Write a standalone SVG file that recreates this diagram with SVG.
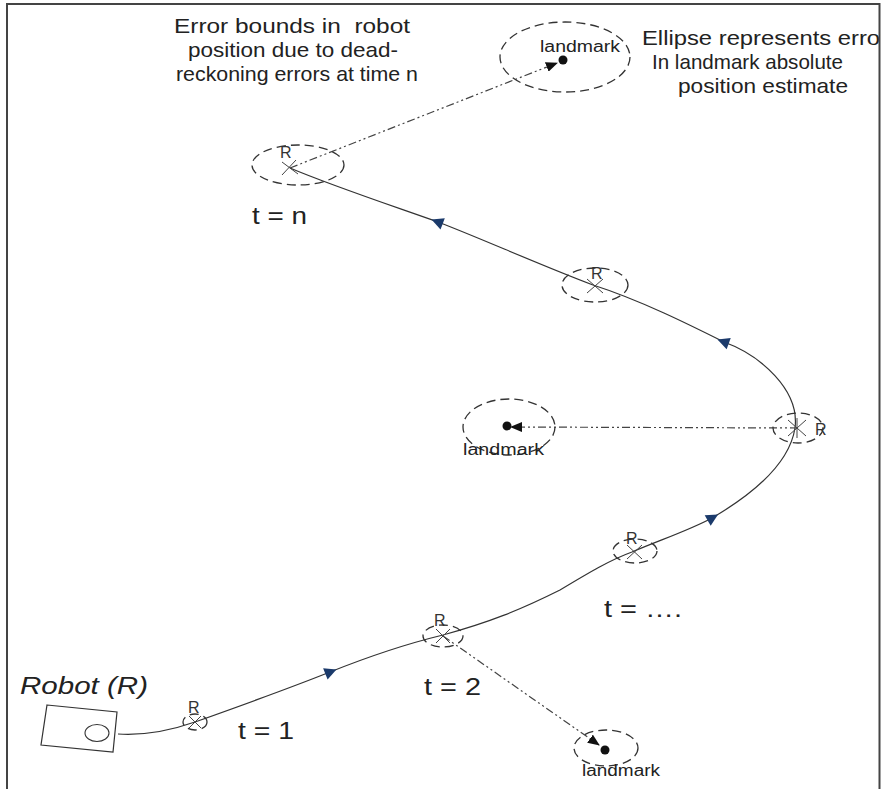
<svg xmlns="http://www.w3.org/2000/svg" width="881" height="789" viewBox="0 0 881 789">
<style>
text{font-family:"Liberation Sans",Arial,sans-serif;fill:#222}
.lbl{font-size:21px}
.t{font-size:23px}
.lm{font-size:16px}
.r{font-size:16px;fill:#333}
.ell{fill:none;stroke:#333;stroke-width:1.3;stroke-dasharray:9 5}
.x{stroke:#444;stroke-width:1}
.conn{fill:none;stroke:#444;stroke-width:1.2;stroke-dasharray:8 3 2 3 2 3}
.dir{fill:#1b3a6b}
</style>
<defs>
<marker id="ah" viewBox="0 0 12 10" refX="11" refY="5" markerWidth="12" markerHeight="10" markerUnits="userSpaceOnUse" orient="auto">
<path d="M0,0 L12,5 L0,10 Z" fill="#111"/>
</marker>
</defs>
<rect x="0" y="0" width="881" height="789" fill="#fff"/>
<g id="labels">
<text class="lbl" x="174" y="33" textLength="236" lengthAdjust="spacingAndGlyphs" xml:space="preserve">Error bounds in  robot</text>
<text class="lbl" x="188" y="57" textLength="210" lengthAdjust="spacingAndGlyphs">position due to dead-</text>
<text class="lbl" x="176" y="81" textLength="242" lengthAdjust="spacingAndGlyphs">reckoning errors at time n</text>
<text class="lbl" x="642" y="45" textLength="246" lengthAdjust="spacingAndGlyphs">Ellipse represents error</text>
<text class="lbl" x="652" y="69" textLength="191" lengthAdjust="spacingAndGlyphs">In landmark absolute</text>
<text class="lbl" x="678" y="93" textLength="170" lengthAdjust="spacingAndGlyphs">position estimate</text>
<text class="t" x="252" y="224" textLength="55" lengthAdjust="spacingAndGlyphs">t = n</text>
<text class="t" x="604" y="617" textLength="78" lengthAdjust="spacingAndGlyphs">t = ….</text>
<text class="t" x="424" y="695" textLength="57" lengthAdjust="spacingAndGlyphs">t = 2</text>
<text class="t" x="238" y="739" textLength="56" lengthAdjust="spacingAndGlyphs">t = 1</text>
</g>
<g id="frame" stroke="#444" stroke-width="2" fill="none">
<path d="M7,789 V4 H879.5 V789"/>
</g>
<g id="connectors">
<path id="trajectory" d="M118,734 C150,736 175,729 195,722 C240,706 290,688 330,672 C370,656 410,643 443,635 C490,622 520,610 560,590 C590,572 610,560 632,552 C660,540 690,530 712,518 C760,490 790,460 795,428 C800,390 760,355 724,342 C690,325 640,300 593,285 C540,265 480,238 438,222 C390,205 330,185 290,168" fill="none" stroke="#333" stroke-width="1.2"/>
<polygon class="dir" points="7,0 -5,-6 -5,6" transform="translate(330,672) rotate(-22)"/>
<polygon class="dir" points="7,0 -5,-6 -5,6" transform="translate(712,518) rotate(-30)"/>
<polygon class="dir" points="7,0 -5,-6 -5,6" transform="translate(724,342) rotate(-160)"/>
<polygon class="dir" points="7,0 -5,-6 -5,6" transform="translate(438,222) rotate(-159)"/>
<path class="conn" d="M290,168 L557,63" marker-end="url(#ah)"/>
<path class="conn" d="M798,428 L511,427" marker-end="url(#ah)"/>
<path class="conn" d="M443,636 L599,745" marker-end="url(#ah)"/>
</g>
<g id="robot">
<polygon points="47,705 117,712 113,752 41,745" fill="#fff" stroke="#333" stroke-width="1.2"/>
<ellipse cx="97" cy="733" rx="12" ry="8.5" fill="none" stroke="#333" stroke-width="1.1"/>
<text x="20" y="694" font-size="24" font-style="italic" textLength="128" lengthAdjust="spacingAndGlyphs">Robot (R)</text>
</g>
<g id="r1">
<ellipse class="ell" cx="195" cy="722" rx="12" ry="8"/>
<path class="x" d="M189,716 L201,728 M201,716 L189,728"/>
<text class="r" x="188" y="713">R</text>
</g>
<g id="r2">
<ellipse class="ell" cx="443" cy="636" rx="20" ry="11"/>
<path class="x" d="M436,629 L450,643 M450,629 L436,643"/>
<text class="r" x="434" y="626">R</text>
</g>
<g id="r3">
<ellipse class="ell" cx="635" cy="551" rx="22" ry="12"/>
<path class="x" d="M627,545 L642,559 M642,545 L627,559"/>
<text class="r" x="626" y="544">R</text>
</g>
<g id="r4">
<ellipse class="ell" cx="798" cy="428" rx="25" ry="15"/>
<path class="x" d="M788,420 L806,436 M806,420 L788,436 M797,418 L797,438"/>
<text class="r" x="815" y="435">R</text>
</g>
<g id="r5">
<ellipse class="ell" cx="595" cy="285" rx="33" ry="17"/>
<path class="x" d="M587,279 L603,293 M603,279 L587,293"/>
<text class="r" x="591" y="279">R</text>
</g>
<g id="r6">
<ellipse class="ell" cx="298" cy="165" rx="46" ry="20"/>
<path class="x" d="M282,162 L298,174 M296,160 L282,175"/>
<text class="r" x="280" y="158">R</text>
</g>
<g id="landmark-top">
<ellipse class="ell" cx="565" cy="57" rx="65" ry="35"/>
<circle cx="563" cy="60" r="4.5" fill="#111"/>
<text class="lm" x="540" y="52" textLength="80" lengthAdjust="spacingAndGlyphs">landmark</text>
</g>
<g id="landmark-mid">
<ellipse class="ell" cx="509" cy="427" rx="46" ry="28"/>
<circle cx="507" cy="426" r="4.5" fill="#111"/>
<text class="lm" x="463" y="455" textLength="81" lengthAdjust="spacingAndGlyphs">landmark</text>
</g>
<g id="landmark-bot">
<ellipse class="ell" cx="606" cy="748" rx="32" ry="18"/>
<circle cx="605" cy="750" r="4.5" fill="#111"/>
<text class="lm" x="582" y="776" textLength="78" lengthAdjust="spacingAndGlyphs">landmark</text>
</g>
</svg>
